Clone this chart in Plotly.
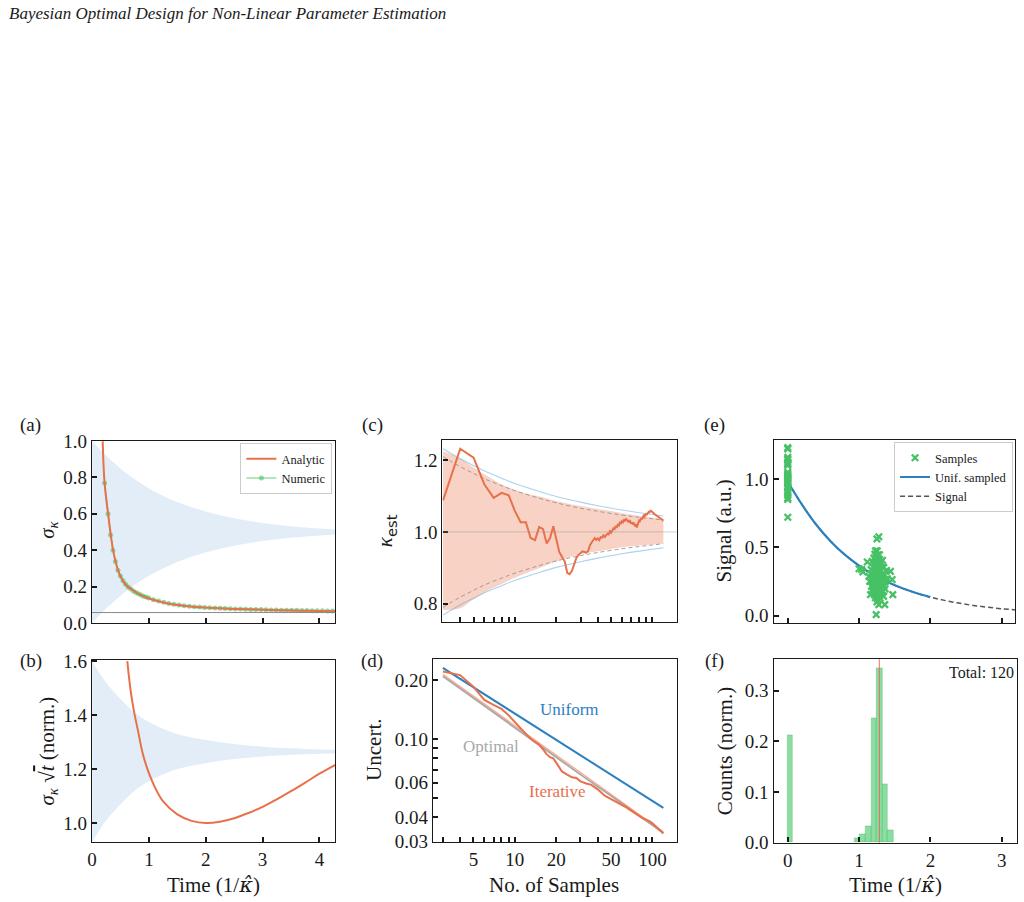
import math
import plotly.graph_objects as go

W, H = 1024, 902
SERIF = "Liberation Serif, DejaVu Serif, serif"
ORANGE = "#e8704a"
BLUE = "#2b80c0"
BAND_BLUE = "#e2edf7"
GREEN = "#47c165"
INK = "#1a1a1a"

# ---------------- (a) sigma_kappa vs time ----------------
band_t = [0, 0.25, 0.5, 0.75, 1.0, 1.5, 2.0, 2.5, 3.0, 3.5, 4.0, 4.28]
band_a_upper = [1.0, 0.92, 0.85, 0.79, 0.74, 0.665, 0.613, 0.576, 0.550, 0.532, 0.519, 0.514]
band_a_lower = [0.0, 0.08, 0.15, 0.21, 0.26, 0.335, 0.387, 0.424, 0.450, 0.468, 0.481, 0.486]

t_analytic = [0.187, 0.20, 0.22, 0.25, 0.28, 0.31, 0.34, 0.37, 0.41, 0.45, 0.50, 0.55, 0.60,
              0.70, 0.80, 0.90, 1.00, 1.20, 1.40, 1.60, 1.80, 2.00, 2.50, 3.00, 3.50, 4.00, 4.28]
sigma_analytic = [1.00, 0.88, 0.77, 0.68, 0.605, 0.530, 0.460, 0.400, 0.340, 0.295, 0.255, 0.228, 0.207,
                  0.184, 0.163, 0.146, 0.134, 0.116, 0.103, 0.094, 0.088, 0.084, 0.077, 0.072, 0.068, 0.065, 0.064]

t_numeric = [0.22, 0.28, 0.325, 0.367, 0.41, 0.455, 0.50, 0.545, 0.59, 0.635, 0.68, 0.725, 0.77, 0.815,
             0.86, 0.905, 0.95, 0.995, 1.08, 1.17, 1.26, 1.35, 1.44, 1.53, 1.62, 1.71, 1.80, 1.89, 1.98,
             2.07, 2.16, 2.25, 2.34, 2.43, 2.52, 2.61, 2.70, 2.79, 2.88, 2.97, 3.06, 3.15, 3.24, 3.33,
             3.42, 3.51, 3.60, 3.69, 3.78, 3.87, 3.96, 4.05, 4.14, 4.23]
sigma_numeric = [0.77, 0.600, 0.484, 0.400, 0.338, 0.290, 0.258, 0.232, 0.213, 0.198, 0.186, 0.176, 0.167,
                 0.160, 0.153, 0.147, 0.142, 0.137, 0.128, 0.120, 0.113, 0.107, 0.102, 0.098, 0.094, 0.091,
                 0.089, 0.087, 0.085, 0.083, 0.082, 0.080, 0.079, 0.078, 0.077, 0.076, 0.075, 0.074, 0.073,
                 0.073, 0.072, 0.071, 0.071, 0.070, 0.070, 0.069, 0.069, 0.068, 0.068, 0.067, 0.067, 0.067,
                 0.066, 0.066]
sigma_floor = 0.057

# ---------------- (b) sigma * sqrt(t) normalised ----------------
band_b_upper = [1.600, 1.520, 1.460, 1.410, 1.375, 1.330, 1.308, 1.293, 1.283, 1.277, 1.273, 1.272]
band_b_lower = [0.930, 1.010, 1.070, 1.120, 1.155, 1.200, 1.222, 1.237, 1.247, 1.253, 1.257, 1.258]
t_norm = [0.62, 0.65, 0.70, 0.75, 0.80, 0.90, 1.00, 1.10, 1.25, 1.50, 1.75, 2.00, 2.25, 2.50, 2.75,
          3.00, 3.25, 3.50, 3.75, 4.00, 4.28]
sigma_sqrt_t = [1.60, 1.54, 1.46, 1.40, 1.35, 1.25, 1.185, 1.135, 1.08, 1.032, 1.008, 1.0, 1.005, 1.018,
                1.037, 1.060, 1.088, 1.118, 1.150, 1.183, 1.216]

# ---------------- (c), (d) estimates vs number of samples ----------------
n_grid = [3, 4, 5, 6, 8, 10, 15, 20, 30, 40, 60, 80, 100, 120]
uncert_uniform = [0.232, 0.204, 0.185, 0.170, 0.150, 0.135, 0.113, 0.099, 0.083, 0.073, 0.061, 0.0535, 0.0484, 0.0446]
uncert_optimal = [0.210, 0.182, 0.163, 0.148, 0.129, 0.115, 0.094, 0.081, 0.066, 0.0575, 0.047, 0.0407, 0.0364, 0.0332]
kappa_true = 1.0

n_fill = [3, 4, 5, 6, 7, 8, 10, 12, 15, 20, 25, 30, 40, 50, 60, 80, 100, 120]
iter_band_upper = [1.225, 1.205, 1.18, 1.16, 1.145, 1.132, 1.117, 1.107, 1.099, 1.086, 1.078, 1.072,
                   1.064, 1.058, 1.052, 1.045, 1.040, 1.036]
iter_band_lower = [0.782, 0.787, 0.812, 0.832, 0.845, 0.855, 0.872, 0.885, 0.899, 0.918, 0.930, 0.938,
                   0.946, 0.952, 0.957, 0.962, 0.965, 0.968]

n_samples = list(range(3, 121))
kappa_est = [1.088, 1.232, 1.207, 1.132, 1.095, 1.109, 1.102, 1.058, 1.027, 1.027,   # 3-12
             0.983, 0.977, 1.014, 1.008, 0.968, 0.983, 1.016, 0.975, 0.944, 0.930,   # 13-22
             0.918, 0.886, 0.882, 0.892, 0.912, 0.928, 0.936, 0.941, 0.946, 0.944,   # 23-32
             0.942, 0.946, 0.962, 0.970, 0.978, 0.983, 0.978, 0.982, 0.977, 0.985,   # 33-42
             0.984, 0.990, 0.986, 0.992, 0.995, 0.993, 1.002, 0.998, 1.004, 1.010,   # 43-52
             1.008, 1.016, 1.012, 1.020, 1.018, 1.026, 1.024, 1.030, 1.027, 1.033,   # 53-62
             1.031, 1.036, 1.034, 1.030, 1.033, 1.026, 1.029, 1.023, 1.027, 1.021,   # 63-72
             1.024, 1.018, 1.016, 1.022, 1.012, 1.020, 1.028, 1.032, 1.030, 1.036,   # 73-82
             1.039, 1.035, 1.041, 1.045, 1.043, 1.047, 1.046, 1.050, 1.049, 1.053,   # 83-92
             1.052, 1.056, 1.055, 1.058, 1.059, 1.058, 1.056, 1.055, 1.053, 1.052,   # 93-102
             1.050, 1.049, 1.048, 1.047, 1.045, 1.044, 1.043, 1.042, 1.040, 1.039,   # 103-112
             1.038, 1.037, 1.036, 1.035, 1.034, 1.034, 1.032, 1.032]                  # 113-120

n_iter = [3, 4, 5, 6, 7, 8, 9, 10, 11, 12, 13, 14, 15, 16, 17, 18, 19, 20, 22, 24, 26, 28, 30, 33, 36,
          40, 45, 50, 55, 60, 65, 70, 75, 80, 85, 90, 95, 100, 105, 110, 115, 120]
uncert_iterative = [0.222, 0.213, 0.186, 0.159, 0.150, 0.143, 0.133, 0.122, 0.114, 0.107, 0.101, 0.097,
                    0.094, 0.089, 0.084, 0.081, 0.080, 0.076, 0.0685, 0.066, 0.064, 0.0634, 0.061, 0.0595,
                    0.0585, 0.0555, 0.0515, 0.0495, 0.0478, 0.0465, 0.0448, 0.0432, 0.0418, 0.0405,
                    0.0395, 0.0388, 0.0382, 0.0372, 0.0360, 0.0350, 0.0338, 0.0330]
n_fit = [3, 120]
uncert_fit = [0.215, 0.0337]

# ---------------- (e), (f) samples ----------------
t_signal = [0, 0.2, 0.4, 0.6, 0.8, 1.0, 1.2, 1.4, 1.6, 1.8, 2.0, 2.2, 2.4, 2.6, 2.8, 3.0, 3.2]
signal = [0.98, 0.812, 0.665, 0.545, 0.446, 0.366, 0.300, 0.246, 0.201, 0.165, 0.135, 0.111, 0.091,
          0.074, 0.061, 0.050, 0.041]
t_uniform_max = 2.0

samples_zero_y = [1.23, 1.22, 1.16, 1.15, 1.14, 1.12, 1.11, 1.10, 1.05, 1.04, 1.03, 1.02, 1.01, 1.00,
                  0.99, 0.98, 0.97, 0.95, 0.94, 0.93, 0.91, 0.90, 0.88, 0.86, 0.85, 0.72]
cluster_t = [1.00, 1.037, 1.055, 1.116, 1.139, 1.162, 1.150,
             1.186, 1.209, 1.223, 1.232, 1.241, 1.223, 1.209, 1.186, 1.232, 1.241, 1.176, 1.198, 1.215,
             1.228, 1.238, 1.192, 1.205, 1.236, 1.172, 1.219, 1.244, 1.181, 1.226, 1.212, 1.240, 1.195,
             1.230, 1.202, 1.245, 1.218,
             1.251, 1.278, 1.255, 1.269, 1.251, 1.288, 1.269, 1.302, 1.255, 1.278, 1.262, 1.285, 1.255,
             1.278, 1.302, 1.260, 1.290, 1.255, 1.278, 1.300, 1.310, 1.265, 1.295, 1.318, 1.250, 1.272,
             1.283, 1.306, 1.262, 1.296, 1.315, 1.248, 1.274, 1.287, 1.258, 1.308, 1.270, 1.292, 1.320,
             1.266, 1.281, 1.252,
             1.328, 1.348, 1.362, 1.372, 1.335, 1.348, 1.340, 1.358, 1.330, 1.365, 1.385, 1.345, 1.395, 1.330,
             1.465, 1.474, 1.441]
cluster_y = [0.343, 0.336, 0.319, 0.392, 0.287, 0.153, 0.250,
             0.397, 0.421, 0.450, 0.474, 0.007, 0.178, 0.324, 0.280, 0.392, 0.311, 0.214, 0.246, 0.263,
             0.238, 0.287, 0.190, 0.353, 0.202, 0.336, 0.150, 0.409, 0.300, 0.345, 0.285, 0.255, 0.225,
             0.130, 0.170, 0.440, 0.377,
             0.562, 0.577, 0.474, 0.445, 0.421, 0.409, 0.377, 0.336, 0.311, 0.275, 0.250, 0.238, 0.202,
             0.214, 0.202, 0.178, 0.165, 0.141, 0.080, 0.190, 0.260, 0.330, 0.300, 0.285, 0.360, 0.400,
             0.355, 0.230, 0.120, 0.128, 0.175, 0.265, 0.305, 0.445, 0.225, 0.390, 0.160, 0.268, 0.215,
             0.290, 0.190, 0.100,
             0.353, 0.353, 0.080, 0.250, 0.290, 0.214, 0.178, 0.300, 0.240, 0.195, 0.330, 0.140, 0.270, 0.405,
             0.263, 0.153, 0.323]
t_opt = 1.283
total_label = "Total: 120"

samples_t = [0.0] * len(samples_zero_y) + cluster_t
samples_y = samples_zero_y + cluster_y

# ---------------- figure ----------------
fig = go.Figure()
lg10 = math.log10

def band(x, up, lo, color, xa, ya):
    fig.add_trace(go.Scatter(x=x, y=up, mode="lines", line=dict(width=0, shape="spline"),
                             hoverinfo="skip", showlegend=False, xaxis=xa, yaxis=ya))
    fig.add_trace(go.Scatter(x=x, y=lo, mode="lines", line=dict(width=0, shape="spline"),
                             fill="tonexty", fillcolor=color, hoverinfo="skip",
                             showlegend=False, xaxis=xa, yaxis=ya))

# (a)
band(band_t, band_a_upper, band_a_lower, BAND_BLUE, "x", "y")
fig.add_trace(go.Scatter(x=t_numeric, y=sigma_numeric, mode="lines+markers", name="Numeric",
                         line=dict(color="rgba(71,193,101,0.55)", width=1.5),
                         marker=dict(size=5, color="rgba(71,193,101,0.6)"),
                         legend="legend", legendrank=2, xaxis="x", yaxis="y"))
fig.add_trace(go.Scatter(x=t_analytic, y=sigma_analytic, mode="lines", name="Analytic",
                         line=dict(color=ORANGE, width=2, shape="spline"),
                         legend="legend", legendrank=1, xaxis="x", yaxis="y"))

# (b)
band(band_t, band_b_upper, band_b_lower, BAND_BLUE, "x2", "y2")
fig.add_trace(go.Scatter(x=t_norm, y=sigma_sqrt_t, mode="lines", showlegend=False,
                         line=dict(color=ORANGE, width=2, shape="spline"), xaxis="x2", yaxis="y2"))

# (c)
band(n_fill, iter_band_upper, iter_band_lower, "rgba(236,130,95,0.36)", "x3", "y3")
for sgn in (1, -1):
    fig.add_trace(go.Scatter(x=n_grid, y=[kappa_true + sgn * u for u in uncert_optimal], mode="lines",
                             line=dict(color="rgba(140,140,140,0.8)", width=1, dash="4px,3px", shape="spline"),
                             showlegend=False, xaxis="x3", yaxis="y3"))
    fig.add_trace(go.Scatter(x=n_grid, y=[kappa_true + sgn * u for u in uncert_uniform], mode="lines",
                             line=dict(color="rgba(90,165,220,0.5)", width=1.1, shape="spline"),
                             showlegend=False, xaxis="x3", yaxis="y3"))
fig.add_trace(go.Scatter(x=n_samples, y=kappa_est, mode="lines", showlegend=False,
                         line=dict(color=ORANGE, width=2), xaxis="x3", yaxis="y3"))

# (d)
fig.add_trace(go.Scatter(x=n_grid, y=uncert_optimal, mode="lines", showlegend=False,
                         line=dict(color="#aaaaaa", width=1.8), xaxis="x4", yaxis="y4"))
fig.add_trace(go.Scatter(x=n_fit, y=uncert_fit, mode="lines", showlegend=False,
                         line=dict(color="rgba(232,112,74,0.55)", width=1.5), xaxis="x4", yaxis="y4"))
fig.add_trace(go.Scatter(x=n_grid, y=uncert_uniform, mode="lines", showlegend=False,
                         line=dict(color=BLUE, width=2), xaxis="x4", yaxis="y4"))
fig.add_trace(go.Scatter(x=n_iter, y=uncert_iterative, mode="lines", showlegend=False,
                         line=dict(color=ORANGE, width=2), xaxis="x4", yaxis="y4"))

# (e)
fig.add_trace(go.Scatter(x=t_signal, y=signal, mode="lines", name="Signal",
                         line=dict(color="#555555", width=1.5, dash="5px,3px", shape="spline"),
                         legend="legend2", legendrank=3, xaxis="x5", yaxis="y5"))
ti = [t for t in t_signal if t <= t_uniform_max]
fig.add_trace(go.Scatter(x=ti, y=signal[:len(ti)], mode="lines", name="Unif. sampled",
                         line=dict(color=BLUE, width=2.2, shape="spline"),
                         legend="legend2", legendrank=2, xaxis="x5", yaxis="y5"))
fig.add_trace(go.Scatter(x=samples_t, y=samples_y, mode="markers", name="Samples",
                         marker=dict(symbol="x-thin", size=6.5, color=GREEN,
                                     line=dict(width=2.3, color=GREEN)),
                         legend="legend2", legendrank=1, xaxis="x5", yaxis="y5"))

# (f)
fig.add_trace(go.Histogram(x=samples_t, xbins=dict(start=-0.01, end=1.6, size=0.0785),
                           histnorm="probability", showlegend=False,
                           marker=dict(color="rgba(95,208,125,0.72)",
                                       line=dict(width=0.5, color="rgba(70,180,100,0.7)")),
                           xaxis="x6", yaxis="y6"))

# pixel helpers (compensating the slight vertical squeeze of the page capture)
YS, YO = 0.978, 9.3

def py2(p):
    return (p - YO) / YS

def xd(a, b):
    return [a / W, b / W]

def yd(top, bottom):
    return [1 - py2(bottom) / H, 1 - py2(top) / H]

base = dict(showline=True, linecolor=INK, linewidth=1.3, mirror=True, ticks="inside",
            ticklen=5, tickwidth=1.6, tickcolor=INK, showgrid=False, zeroline=False,
            tickfont=dict(family=SERIF, size=19, color=INK))

log_ticks = [3, 4, 5, 6, 7, 8, 9, 10, 20, 30, 40, 50, 60, 70, 80, 90, 100]
log_text = ["" if v not in (5, 10, 20, 50, 100) else str(v) for v in log_ticks]

legend_style = dict(xanchor="right", yanchor="top", bgcolor="white", bordercolor="#cccccc",
                    borderwidth=1, font=dict(family=SERIF, size=12.5, color=INK),
                    itemwidth=30, tracegroupgap=0, traceorder="normal")

fig.update_layout(
    width=W, height=H, margin=dict(l=0, r=0, t=0, b=0),
    paper_bgcolor="white", plot_bgcolor="white", bargap=0,
    font=dict(family=SERIF, color=INK),
    xaxis=dict(base, domain=xd(87.5, 332), range=[0, 4.28], tickvals=[0, 1, 2, 3, 4],
               showticklabels=False, anchor="y"),
    yaxis=dict(base, domain=yd(441, 623), range=[0, 1.0], tickvals=[0, 0.2, 0.4, 0.6, 0.8, 1.0],
               tickformat=".1f", anchor="x"),
    xaxis2=dict(base, domain=xd(87.5, 332), range=[0, 4.28], tickvals=[0, 1, 2, 3, 4], anchor="y2"),
    yaxis2=dict(base, domain=yd(660, 842.3), range=[0.93, 1.605], tickvals=[1.0, 1.2, 1.4, 1.6],
                tickformat=".1f", anchor="x2"),
    xaxis3=dict(base, type="log", domain=xd(439.5, 675), range=[lg10(2.965), lg10(150)],
                tickvals=log_ticks, ticktext=log_text, showticklabels=False, anchor="y3"),
    yaxis3=dict(base, domain=yd(440, 622), range=[0.749, 1.256], tickvals=[0.8, 1.0, 1.2],
                tickformat=".1f", anchor="x3"),
    xaxis4=dict(base, type="log", domain=xd(430, 675), range=[lg10(2.54), lg10(150)],
                tickvals=log_ticks, ticktext=log_text, anchor="y4"),
    yaxis4=dict(base, type="log", domain=yd(659.3, 842.3), range=[lg10(0.0299), lg10(0.257)],
                tickvals=[0.03, 0.04, 0.05, 0.06, 0.07, 0.08, 0.09, 0.1, 0.2],
                ticktext=["0.03", "0.04", "", "0.06", "", "", "", "0.10", "0.20"], anchor="x4"),
    xaxis5=dict(base, domain=xd(772.3, 1015), range=[-0.2, 3.19], tickvals=[0, 1, 2, 3],
                showticklabels=False, anchor="y5"),
    yaxis5=dict(base, domain=yd(440, 623), range=[-0.054, 1.285], tickvals=[0.0, 0.5, 1.0],
                tickformat=".1f", anchor="x5"),
    xaxis6=dict(base, domain=xd(772.3, 1016.7), range=[-0.2, 3.21], tickvals=[0, 1, 2, 3], anchor="y6"),
    yaxis6=dict(base, domain=yd(659.3, 843), range=[0, 0.3625], tickvals=[0.0, 0.1, 0.2, 0.3],
                tickformat=".1f", anchor="x6"),
    legend=dict(legend_style, x=329 / W, y=1 - py2(443) / H),
    legend2=dict(legend_style, x=1013 / W, y=1 - py2(442) / H),
)

fig.add_shape(type="line", xref="x domain", x0=0, x1=1, yref="y", y0=sigma_floor, y1=sigma_floor,
              line=dict(color="#8a8a8a", width=1))
fig.add_shape(type="line", xref="x3 domain", x0=0, x1=1, yref="y3", y0=kappa_true, y1=kappa_true,
              line=dict(color="rgba(150,150,150,0.45)", width=1))
fig.add_shape(type="line", xref="x6", x0=t_opt, x1=t_opt, yref="y6 domain", y0=0, y1=1,
              line=dict(color="rgba(230,90,80,0.85)", width=1))

def ann(text, x, y, size=21, angle=0, color=INK, xanchor="center", **kw):
    fig.add_annotation(text=text, x=x, y=y, showarrow=False, textangle=angle,
                       font=dict(family=SERIF, size=size, color=color), xanchor=xanchor,
                       yanchor="middle", **kw)

def pann(text, px, py, **kw):
    ann(text, px / W, 1 - py2(py) / H, xref="paper", yref="paper", **kw)

KHAT = "<span style='font-family:DejaVu Serif'><i>κ̂</i></span>"

# title
pann("<i>Bayesian Optimal Design for Non-Linear Parameter Estimation</i>", 2, 13, size=17,
     xanchor="left")
# panel labels
for lab, px, py in [("(a)", 26, 425), ("(b)", 26, 661), ("(c)", 369, 425), ("(d)", 369, 661),
                    ("(e)", 713, 425), ("(f)", 713, 661)]:
    pann(lab, px, py, size=19)
# axis titles
pann("<i>σ</i><sub><i>κ</i></sub>", 43, 530, angle=-90)
pann("<i>σ</i><sub><i>κ</i></sub> √<span style='text-decoration:overline'><i>t</i></span> (norm.)",
     43, 751, angle=-90)
pann("<i>κ</i><sub><span style='font-family:DejaVu Sans'>est</span></sub>", 383, 531, angle=-90)
pann("Uncert.", 371, 750, angle=-90)
pann("Signal (a.u.)", 723, 531, angle=-90)
pann("Counts (norm.)", 723, 751, angle=-90)
pann("Time (1/" + KHAT + ")", 210, 885)
pann("No. of Samples", 552, 885)
pann("Time (1/" + KHAT + ")", 895, 885)
# (d) line labels
ann("Uniform", lg10(25), lg10(0.1415), size=17, color=BLUE, xref="x4", yref="y4")
ann("Optimal", lg10(6.75), lg10(0.0919), size=17, color="#a8a8a8", xref="x4", yref="y4")
ann("Iterative", lg10(20.3), lg10(0.0542), size=17, color=ORANGE, xref="x4", yref="y4")
# (f) total
ann(total_label, 0.995, 0.925, size=16, xanchor="right", xref="x6 domain", yref="y6 domain")

fig.write_html("out.html",
               post_script="document.body.style.margin='0';document.body.style.overflow='hidden';")
